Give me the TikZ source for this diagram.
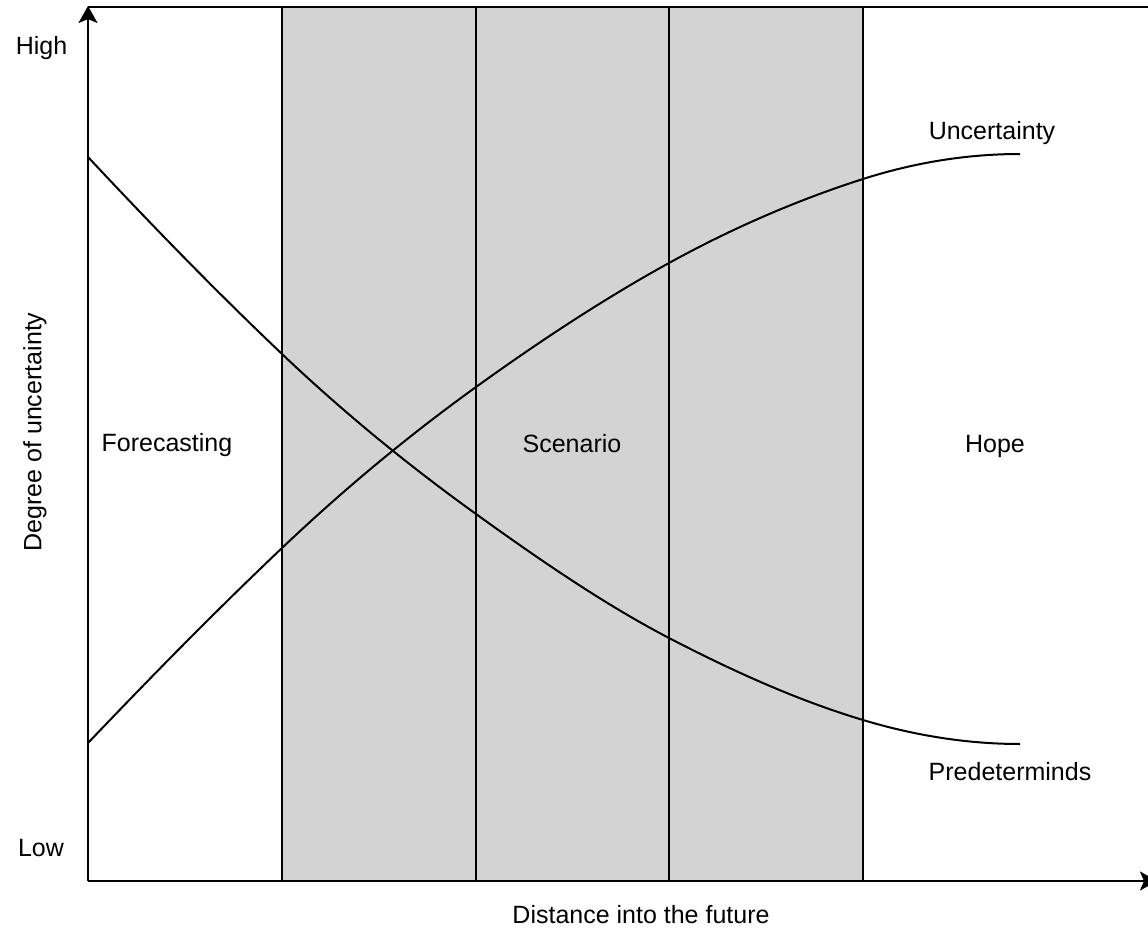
\documentclass[tikz,border=0pt]{standalone}
\usepackage{fontspec}
\setmainfont{Liberation Sans}
\usetikzlibrary{arrows.meta}
\begin{document}
\begin{tikzpicture}[x=1pt,y=-1pt,
  lbl/.style={inner sep=0pt,anchor=base,font=\fontsize{25}{30}\selectfont},
  axis/.style={line width=2.6pt},
  band/.style={line width=1.6pt},
  curve/.style={line width=2pt},
  tip/.style={-{Stealth[length=17pt,width=19pt,inset=4pt]}}]
\useasboundingbox (0,0) rectangle (1148,928);
\fill[white] (0,0) rectangle (1148,928);
% shaded region
\fill[fill={rgb,255:red,211;green,211;blue,211}] (282,7) rectangle (863,881);
% vertical band lines
\foreach \x in {282,476,669,863} \draw[band] (\x,7) -- (\x,881);
% top border
\draw[band] (88,7) -- (1150,7);
% Predeterminds curve
\draw[curve] (88,157) .. controls (152.67,226.2) and (217.33,292.6) .. (282,354)
  .. controls (346.67,415.4) and (411.33,467.4) .. (476,514)
  .. controls (540.33,560.3) and (604.67,604.5) .. (669,638)
  .. controls (733.67,671.6) and (798.33,700.6) .. (863,720)
  .. controls (915.33,735.7) and (967.67,744) .. (1020,744);
% Uncertainty curve
\draw[curve] (88,743) .. controls (152.67,675.1) and (217.33,609.4) .. (282,548)
  .. controls (346.67,486.6) and (411.33,433.6) .. (476,387)
  .. controls (540.33,340.7) and (604.67,298.4) .. (669,263)
  .. controls (733.67,227.4) and (798.33,199.7) .. (863,179)
  .. controls (915.33,162.3) and (967.67,154) .. (1020,154);
% axes
\coordinate (o) at (88,881);
\coordinate (ytop) at (88,6);
\coordinate (xend) at (1157,881);
\draw[axis,tip] (o) -- (ytop);
\draw[axis,tip] (o) -- (xend);
% labels
\node[lbl] (high) at (41.5,55) {High};
\node[lbl] (low) at (41,856) {Low};
\node[inner sep=0pt,font=\fontsize{25}{30}\selectfont,rotate=90] (ylab) at (35,432) {Degree of uncertainty};
\node[lbl] (xlab) at (641,923) {Distance into the future};
\node[lbl] (fc) at (167,451) {Forecasting};
\node[lbl] (sc) at (572,452) {Scenario};
\node[lbl] (hope) at (995,452) {Hope};
\node[lbl] (unc) at (992,140) {Uncertainty};
\node[lbl] (pre) at (1010,780) {Predeterminds};
\end{tikzpicture}
\end{document}
